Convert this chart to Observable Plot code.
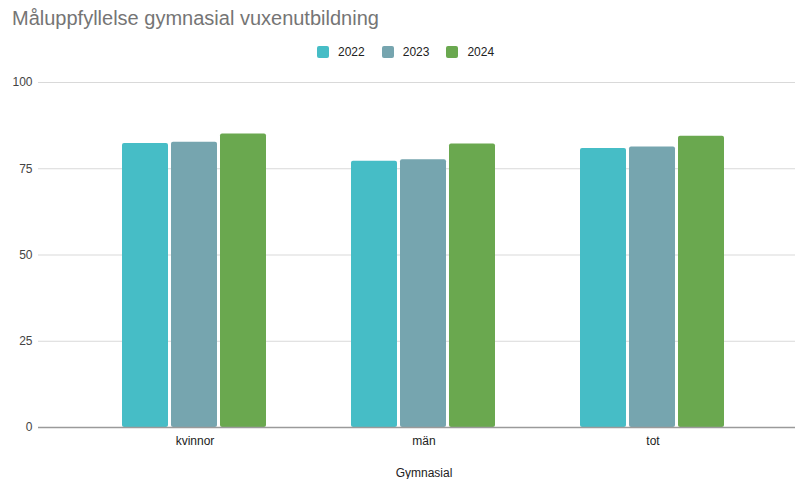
<!DOCTYPE html>
<html>
<head>
<meta charset="utf-8">
<script src="https://cdn.jsdelivr.net/npm/d3@7"></script>
<script src="https://cdn.jsdelivr.net/npm/@observablehq/plot@0.6"></script>
<style>
  html, body { margin: 0; padding: 0; background: #ffffff; }
  body { width: 795px; height: 479px; overflow: hidden; font-family: "Liberation Sans", Arial, sans-serif; }
  .title { height: 36px; line-height: 36px; padding-left: 12px; font-size: 20px; color: #757575; white-space: nowrap; }
  .legend { height: 32px; display: flex; align-items: center; padding-left: 317px; font-size: 12px; color: #222; }
  .legend .item { display: flex; align-items: center; margin-right: 17px; }
  .legend .swatch { width: 12px; height: 12px; border-radius: 2px; margin-right: 9px; }
  #chart { position: relative; width: 795px; height: 411px; }
  #chart svg { display: block; position: absolute; left: 0; top: 0; }
</style>
</head>
<body>
<div class="title">Måluppfyllelse gymnasial vuxenutbildning</div>
<div class="legend" id="legend"></div>
<div id="chart"></div>
<script>
// Goal attainment in upper-secondary adult education, by group and year
const categories = ["kvinnor", "män", "tot"];
const years = ["2022", "2023", "2024"];
const values2022 = [82.3, 77.2, 80.9];
const values2023 = [82.7, 77.6, 81.3];
const values2024 = [85.1, 82.2, 84.4];
const yearColors = ["#46bdc6", "#76a5af", "#6aa84f"];
const yTicks = [0, 25, 50, 75, 100];
const xTitle = "Gymnasial";

const seriesByYear = [values2022, values2023, values2024];
const rows = categories.flatMap((category, i) =>
  years.map((year, j) => ({ category, year, value: seriesByYear[j][i] }))
);

// Legend
const legend = document.getElementById("legend");
years.forEach((year, j) => {
  const item = document.createElement("div");
  item.className = "item";
  const sw = document.createElement("div");
  sw.className = "swatch";
  sw.style.background = yearColors[j];
  const label = document.createElement("span");
  label.textContent = year;
  item.append(sw, label);
  legend.append(item);
});

// Shared frame so the stacked layers line up exactly
const frame = {
  width: 795,
  height: 411,
  marginLeft: 38,
  marginRight: -14,
  marginTop: 14,
  marginBottom: 52,
  style: { fontFamily: "'Liberation Sans', Arial, sans-serif", fontSize: "12px", color: "#444", background: "transparent", overflow: "hidden" }
};

// Back layer: gridlines and y axis spanning the full frame
const back = Plot.plot({
  ...frame,
  y: { domain: [0, 100] },
  marks: [
    Plot.ruleY(yTicks.filter(d => d !== 0), { stroke: "#d9d9d9", strokeWidth: 1 }),
    Plot.axisY({ ticks: yTicks, tickSize: 0, tickPadding: 6, label: null, fill: "#444" })
  ]
});

// Middle layer: grouped bars, one facet per category
const bars = Plot.plot({
  ...frame,
  fx: { domain: categories, paddingInner: 0, paddingOuter: 0.18 },
  x: { domain: years, paddingInner: 0.053, paddingOuter: 0.854, axis: null },
  y: { domain: [0, 100], axis: null },
  color: { domain: years, range: yearColors },
  marks: [
    Plot.barY(rows, { fx: "category", x: "year", y: "value", fill: "year", rx: 2 }),
    Plot.axisFx({ anchor: "bottom", tickSize: 0, tickPadding: 8.5, label: xTitle, labelAnchor: "center", labelOffset: 49, fill: "#222" })
  ]
});

// Front layer: baseline at zero
const front = Plot.plot({
  ...frame,
  y: { domain: [0, 100], axis: null },
  marks: [
    Plot.ruleY([0], { stroke: "#9a9a9a", strokeWidth: 1.4 })
  ]
});

document.getElementById("chart").append(back, bars, front);
</script>
</body>
</html>
